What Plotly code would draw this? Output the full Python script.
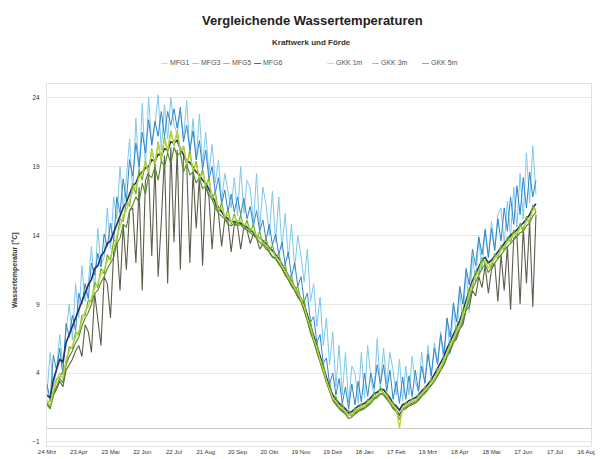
import pandas as pd
import plotly.graph_objects as go

START = "2008-03-24"
STEP = "3D"

TICK_LABELS = ["24 Mrz", "23 Apr", "23 Mai", "22 Jun", "22 Jul", "21 Aug", "20 Sep", "20 Okt",
               "19 Nov", "19 Dez", "18 Jan", "17 Feb", "19 Mrz", "18 Apr", "18 Mai", "17 Jun",
               "17 Jul", "16 Aug"]
Y_TICKS = [-1, 4, 9, 14, 19, 24]

MFG1 = [2.0,1.6,2.8,3.4,4.0,3.6,5.0,5.6,6.0,6.6,
        7.0,7.8,8.5,8.8,9.5,10.2,10.5,11.2,11.5,12.2,
        12.5,13.0,14.0,14.6,15.5,15.8,16.5,17.3,17.5,18.2,
        18.5,19.3,18.6,20.2,19.2,20.7,19.6,21.0,20.2,21.6,
        20.6,21.6,20.2,20.4,19.2,19.9,18.7,19.2,18.2,18.5,
        17.8,17.9,16.8,16.7,15.9,16.0,15.4,15.5,14.9,15.4,
        15.0,15.1,14.8,14.7,14.5,14.3,14.0,13.8,13.5,13.3,
        13.0,12.8,12.5,12.2,11.8,11.4,11.0,10.6,10.2,9.8,
        9.4,8.8,8.0,7.2,6.5,5.8,5.0,4.2,3.5,2.8,
        2.2,1.9,1.6,1.4,1.2,0.9,1.0,1.2,1.4,1.5,
        1.6,1.8,2.0,2.3,2.4,2.7,2.6,2.3,2.0,1.6,
        1.4,0.0,1.5,1.6,1.8,1.9,2.0,2.2,2.5,2.7,
        3.0,3.3,3.6,4.0,4.4,4.9,5.5,6.0,6.5,7.0,
        7.5,8.2,9.0,9.8,10.5,11.0,11.5,12.0,12.2,11.6,
        12.0,12.3,12.6,12.9,13.2,13.5,13.8,14.0,14.2,14.5,
        14.6,15.0,15.2,15.8,16.0]

MFG3 = [1.8,2.0,2.5,3.6,3.7,4.2,4.6,5.9,5.8,7.0,
        6.8,8.2,8.2,9.3,9.2,10.6,10.2,11.6,11.2,12.6,
        12.2,13.6,13.6,15.2,15.0,16.4,16.1,17.8,17.0,18.8,
        18.0,19.4,18.5,20.3,19.0,20.8,19.4,21.2,20.0,21.6,
        20.5,21.5,20.0,20.5,19.0,20.2,18.6,19.4,18.0,18.8,
        17.5,18.2,16.6,17.2,15.6,16.4,15.2,15.9,14.8,15.6,
        14.7,15.5,14.5,15.1,14.2,14.8,13.8,14.3,13.3,13.8,
        12.8,13.3,12.3,12.7,11.6,11.9,10.8,11.1,10.0,10.3,
        9.2,9.3,7.8,7.8,6.3,6.3,4.8,4.8,3.3,3.4,
        2.0,2.3,1.4,1.8,1.0,1.3,0.8,1.5,1.2,1.8,
        1.4,2.1,1.8,2.6,2.2,3.0,2.4,2.6,1.8,1.9,
        1.2,0.6,1.3,1.9,1.6,2.2,1.8,2.5,2.3,3.0,
        2.8,3.6,3.4,4.3,4.2,5.2,5.2,6.4,6.2,7.4,
        7.2,8.6,8.7,10.2,10.2,11.4,11.2,12.4,11.9,12.0,
        11.7,12.7,12.3,13.3,12.9,13.9,13.5,14.4,13.9,14.9,
        14.3,15.4,14.9,16.2,15.7]

MFG5 = [1.7,1.4,2.4,3.0,3.6,3.3,4.6,5.2,5.6,6.2,
        6.6,7.4,8.0,8.4,9.0,9.8,10.0,10.6,11.0,11.6,
        12.0,12.4,13.4,13.8,14.8,14.6,15.8,16.2,16.8,16.4,
        17.8,17.0,18.4,18.2,19.0,18.0,19.4,19.0,20.0,19.2,
        20.4,19.8,20.0,18.6,19.2,18.4,18.6,17.8,18.2,17.4,
        17.6,17.0,16.6,16.0,15.6,15.4,15.2,14.8,14.7,14.9,
        14.7,14.8,14.5,14.4,14.2,14.0,13.8,13.5,13.3,13.0,
        12.8,12.5,12.3,11.9,11.6,11.1,10.8,10.3,10.0,9.5,
        9.2,8.5,7.8,6.9,6.3,5.5,4.8,4.0,3.3,2.6,
        2.0,1.7,1.4,1.2,1.0,0.7,0.8,1.0,1.2,1.3,
        1.4,1.6,1.8,2.1,2.2,2.5,2.4,2.1,1.8,1.4,
        1.2,0.9,1.3,1.4,1.6,1.7,1.8,2.0,2.3,2.5,
        2.8,3.1,3.4,3.8,4.2,4.6,5.2,5.7,6.2,6.7,
        7.2,7.8,8.6,9.4,10.1,10.6,11.1,11.6,11.9,11.3,
        11.7,12.0,12.3,12.6,12.9,13.2,13.4,13.7,13.9,14.2,
        14.3,14.7,14.9,15.4,15.7]

MFG6 = [2.4,2.2,3.5,4.2,5.0,4.8,6.2,6.8,7.4,8.0,
        8.6,9.2,9.8,10.4,10.8,11.6,11.8,12.5,12.8,13.4,
        13.6,14.2,14.8,15.4,16.0,16.4,17.0,17.6,17.8,18.4,
        18.6,18.9,19.0,19.5,19.4,19.9,19.8,20.3,20.2,20.8,
        20.7,20.9,20.3,19.8,19.4,19.3,18.9,18.6,18.4,18.0,
        17.8,17.4,16.9,16.4,16.0,15.7,15.4,15.2,15.0,15.0,
        14.9,14.9,14.7,14.6,14.4,14.2,14.0,13.8,13.6,13.4,
        13.1,12.9,12.6,12.3,11.9,11.5,11.1,10.7,10.3,9.9,
        9.5,9.0,8.2,7.4,6.7,6.0,5.2,4.4,3.7,3.0,
        2.4,2.1,1.8,1.6,1.4,1.1,1.2,1.4,1.6,1.7,
        1.8,2.0,2.2,2.5,2.6,2.8,2.8,2.5,2.2,1.8,
        1.6,1.3,1.7,1.8,2.0,2.1,2.2,2.4,2.7,2.9,
        3.2,3.5,3.9,4.3,4.7,5.2,5.8,6.3,6.8,7.3,
        7.8,8.5,9.3,10.0,10.7,11.2,11.7,12.2,12.4,12.0,
        12.2,12.5,12.8,13.1,13.4,13.7,14.0,14.2,14.4,14.7,
        14.9,15.2,15.5,16.0,16.3]

GKK_1M = [2.5,5.5,3.0,4.2,6.8,4.5,7.0,9.0,6.4,10.5,
          8.0,11.8,9.2,10.5,13.2,10.0,14.5,11.8,12.4,16.0,
          13.0,16.8,15.2,19.0,16.0,18.2,21.0,17.0,22.5,18.4,
          23.6,19.0,24.0,20.5,22.0,24.2,20.2,23.5,21.0,24.0,
          22.0,21.4,23.0,21.0,23.8,20.0,22.5,19.5,22.8,19.2,
          21.5,18.5,20.6,17.8,19.5,16.5,18.5,17.2,16.0,18.2,
          15.4,19.0,15.6,18.0,17.4,14.9,18.5,14.5,17.5,16.2,
          14.0,17.2,13.5,16.8,13.0,15.6,12.3,14.8,11.6,14.0,
          12.5,10.6,13.0,9.2,10.5,7.4,9.5,6.0,8.0,4.6,
          7.0,3.0,6.0,2.4,5.5,1.8,4.5,4.0,1.8,5.5,
          2.2,6.0,3.6,2.4,6.5,3.0,5.8,3.2,5.5,4.2,
          2.4,5.0,2.0,4.5,2.4,5.2,3.4,2.6,5.5,3.2,
          6.0,3.6,6.2,4.8,7.0,4.6,8.0,5.4,9.0,6.4,
          10.0,7.6,11.5,8.4,12.5,10.6,13.8,11.4,14.5,12.4,
          15.0,13.0,15.5,16.0,13.4,16.5,14.0,17.5,14.6,18.5,
          15.2,20.0,16.4,20.5,17.0]

GKK_3M = [3.2,2.0,5.3,4.2,5.8,3.9,7.6,6.6,8.2,7.1,
          9.8,9.0,10.5,9.4,12.0,11.1,12.7,11.7,14.1,13.2,
          14.9,13.6,16.8,15.6,18.1,16.5,19.5,18.3,20.7,19.0,
          21.5,20.0,22.4,20.6,22.3,21.2,23.0,21.2,23.0,22.0,
          23.2,21.8,23.3,20.8,22.0,20.2,21.6,19.5,20.9,18.8,
          20.2,18.1,19.0,17.1,18.2,16.3,17.3,15.7,17.0,15.7,
          16.8,15.5,16.7,15.2,16.1,14.7,15.8,14.3,15.1,13.7,
          14.8,13.3,14.1,12.6,13.5,11.9,12.8,11.0,12.0,10.3,
          11.0,9.2,9.8,7.7,8.1,6.2,6.8,4.7,5.1,3.2,
          4.0,2.4,3.6,1.8,3.0,1.4,3.2,1.7,3.4,1.9,
          4.0,2.3,4.0,2.9,4.6,3.2,4.6,2.7,4.2,2.1,
          3.4,1.8,3.7,2.1,3.8,2.3,4.2,2.7,4.5,3.3,
          5.4,3.8,5.8,4.6,6.8,5.4,8.0,6.6,9.1,7.7,
          10.3,9.0,11.6,10.4,13.0,11.8,13.9,12.6,14.4,12.4,
          14.5,12.9,15.2,13.6,16.0,14.3,16.8,14.8,17.6,15.5,
          18.2,16.0,18.6,16.8,18.0]

GKK_5M = [1.8,1.5,2.4,2.8,3.4,3.0,4.2,4.6,5.0,5.6,
          6.0,5.2,7.5,7.0,5.5,9.8,8.0,6.0,11.0,10.5,
          8.0,12.8,13.5,10.0,14.8,11.5,15.8,16.0,12.0,17.5,
          10.0,18.0,18.6,12.5,19.2,11.0,15.0,19.8,10.5,20.4,
          13.5,20.2,11.5,19.8,19.2,12.0,18.6,14.5,18.2,11.8,
          17.6,16.8,13.0,16.4,15.6,13.2,15.2,15.0,12.8,14.8,
          14.7,13.0,14.6,14.4,13.4,14.1,13.8,13.0,13.4,13.2,
          12.8,12.4,12.3,12.0,11.6,11.2,10.8,10.4,10.0,9.6,
          9.2,8.6,7.8,7.0,6.3,5.6,4.8,4.0,3.3,2.7,
          2.1,1.8,1.5,1.3,1.1,0.9,1.0,1.1,1.3,1.4,
          1.5,1.7,1.9,2.2,2.3,2.5,2.5,2.2,1.9,1.5,
          1.3,1.0,1.4,1.5,1.7,1.8,1.9,2.1,2.4,2.6,
          2.9,3.1,3.4,3.8,4.2,4.6,5.2,5.6,6.2,6.5,
          7.2,7.5,8.6,8.8,10.0,9.6,11.0,10.2,11.8,9.8,
          11.5,12.0,9.2,12.6,10.0,13.2,8.6,13.8,14.0,9.0,
          14.6,10.5,15.0,8.8,15.5]

SERIES = [
    ("MFG1", MFG1), ("MFG3", MFG3), ("MFG5", MFG5), ("MFG6", MFG6),
    ("GKK 1m", GKK_1M), ("GKK 3m", GKK_3M), ("GKK 5m", GKK_5M),
]
COLORS = {"MFG1": "#bcd535", "MFG3": "#6fb131", "MFG5": "#4f8a2a", "MFG6": "#23306e",
          "GKK 1m": "#7cc8ee", "GKK 3m": "#2f86c8", "GKK 5m": "#5e5d4a"}
WIDTHS = {"MFG1": 1.3, "MFG3": 1.2, "MFG5": 1.1, "MFG6": 1.6,
          "GKK 1m": 1.0, "GKK 3m": 1.0, "GKK 5m": 1.1}
DRAW_ORDER = ["GKK 1m", "GKK 3m", "MFG6", "GKK 5m", "MFG5", "MFG3", "MFG1"]
# legend entry left edges (page pixels)
LEGEND_LEFT_PX = {"MFG1": 159, "MFG3": 190, "MFG5": 221, "MFG6": 252,
                  "GKK 1m": 325, "GKK 3m": 370, "GKK 5m": 420}

# the page body has an 8 px margin, so the figure starts at page (8, 8)
OFF = 8
W, H = 603 - OFF, 459 - OFF
ML, MR, MT, MB = 47 - OFF, 12, 84 - OFF, 13
PW, PH = W - ML - MR, H - MT - MB

n = len(MFG1)
for name, vals in SERIES:
    assert len(vals) == n, (name, len(vals))
dates = pd.date_range(START, periods=n, freq=STEP)
tick_dates = pd.date_range(START, periods=len(TICK_LABELS), freq="30D")

data = dict(SERIES)

fig = go.Figure()
for name in DRAW_ORDER:
    fig.add_trace(go.Scatter(
        x=dates, y=data[name], mode="lines", name=name,
        line=dict(color=COLORS[name], width=WIDTHS[name]),
        showlegend=False,
    ))


def px_x(px):
    return (px - OFF - ML) / PW


def px_y(py):
    return (H - MB - (py - OFF)) / PH


annotations = [
    dict(text="<b>Vergleichende Wassertemperaturen</b>", x=px_x(312), y=px_y(21),
         font=dict(size=13, color="#222222"), xanchor="center"),
    dict(text="<b>Kraftwerk und Förde</b>", x=px_x(311), y=px_y(43),
         font=dict(size=8, color="#333333"), xanchor="center"),
    dict(text="<b>Wassertemperatur [°C]</b>", x=px_x(15), y=px_y(270), textangle=-90,
         font=dict(size=7, color="#333333"), xanchor="center"),
]
for name, _ in SERIES:
    dash = "<b>—</b>" if name == "MFG6" else "—"
    annotations.append(dict(
        text=f"<span style='color:{COLORS[name]}'>{dash}</span> {name}",
        x=px_x(LEGEND_LEFT_PX[name]), y=px_y(62), xanchor="left",
        font=dict(size=7, color="#555555"),
    ))
for a in annotations:
    a.update(xref="paper", yref="paper", showarrow=False, yanchor="middle")

fig.update_layout(
    width=W, height=H,
    margin=dict(l=ML, r=MR, t=MT, b=MB, autoexpand=False),
    paper_bgcolor="white", plot_bgcolor="white",
    font=dict(family="Liberation Sans, Arial, sans-serif", color="#333333"),
    showlegend=False,
    xaxis=dict(type="date", range=["2008-03-24", "2009-08-20"],
               tickvals=tick_dates, ticktext=TICK_LABELS, ticks="",
               tickfont=dict(size=6, color="#333333"), ticklabeloverflow="allow",
               showgrid=False, showline=True, mirror=True, linecolor="#e2e2e2", linewidth=1,
               zeroline=False),
    yaxis=dict(range=[-1.3, 25], tickvals=Y_TICKS, ticks="",
               tickfont=dict(size=6.5, color="#333333"), ticklabelstandoff=5,
               showgrid=True, gridcolor="#e6e6e6", gridwidth=1,
               zeroline=True, zerolinecolor="#cccccc", zerolinewidth=1,
               showline=True, mirror=True, linecolor="#e2e2e2", linewidth=1),
    annotations=annotations,
)

fig.write_html("out.html")
